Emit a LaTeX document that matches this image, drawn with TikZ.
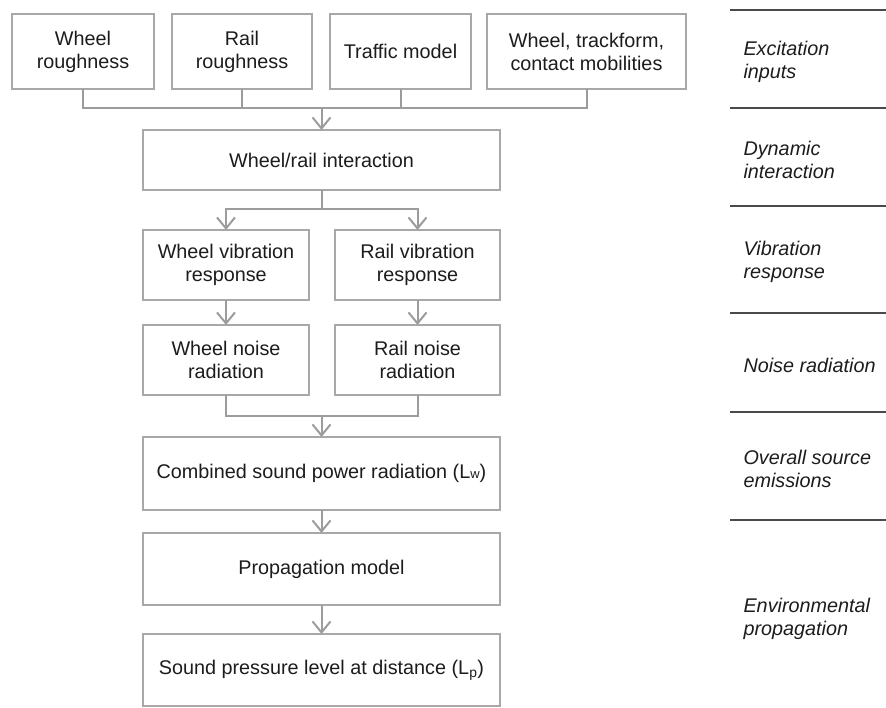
\documentclass[tikz,border=0pt]{standalone}
\usepackage{fontspec}
\setmainfont{Liberation Sans}
\usetikzlibrary{arrows.meta,positioning}
\definecolor{boxgray}{HTML}{A8A8A8}
\definecolor{linegray}{HTML}{9C9C9C}
\definecolor{rulegray}{HTML}{4A4A4A}
\definecolor{textgray}{HTML}{1C1C1C}

\begin{document}
\begin{tikzpicture}[
    x=1pt, y=-1pt,
    node distance=23pt and 25pt,
    block/.style={
        draw=boxgray,
        line width=1.3pt,
        rectangle,
        inner sep=0pt,
        outer sep=0pt,
        minimum height=75pt,
        align=center,
        text=textgray,
        font=\fontsize{19.8}{23}\selectfont
    },
    wide/.style={
        block,
        minimum width=357pt,
        minimum height=72pt
    },
    half/.style={
        block,
        minimum width=166pt,
        minimum height=70pt
    },
    stage/.style={
        anchor=west,
        align=left,
        text=textgray,
        font=\fontsize{19.8}{23}\selectfont\itshape
    },
    link/.style={
        draw=linegray,
        line width=2pt
    },
    arrow/.style={
        link,
        -{Straight Barb[length=11pt,width=18pt,line width=2pt]}
    },
    sep/.style={
        draw=rulegray,
        line width=1.4pt
    }
]
\useasboundingbox (0,0) rectangle (886,708);

% Inputs
\node[block, minimum width=142pt] (wrough) at (83,51.5) {Wheel\\roughness};
\node[block, minimum width=140pt] (rrough) at (242,51.5) {Rail\\roughness};
\node[block, minimum width=141pt] (traffic) at (400.5,51.5) {Traffic model};
\node[block, minimum width=199pt] (mobil) at (586.5,51.5) {Wheel, trackform,\\contact mobilities};

% Interaction
\coordinate (join) at (321.5,108);
\node[wide, minimum height=60pt] (inter) at (321.5,160) {Wheel/rail interaction};

% Vibration and radiation
\coordinate (split) at (321.5,209);
\node[half] (wvib) at (226,265) {Wheel vibration\\response};
\node[half, minimum width=165pt] (rvib) at (417.5,265) {Rail vibration\\response};
\node[half, below=25pt of wvib] (wnoise) {Wheel noise\\radiation};
\node[half, minimum width=165pt, below=25pt of rvib] (rnoise) {Rail noise\\radiation};

% Emission and propagation
\coordinate (merge) at (321.5,416);
\node[wide, minimum height=73pt] (comb) at (321.5,473.5) {Combined sound power radiation (L{\fontsize{13}{13}\selectfont w})};
\node[wide, below=23pt of comb] (prop) {Propagation model};
\node[wide, below=29pt of prop] (spl) {Sound pressure level at distance (L\textsubscript{p})};

% Inputs to interaction
\draw[link] (wrough.south) |- (join) -| (mobil.south);
\draw[link] (rrough.south) -- (rrough.south |- join);
\draw[link] (traffic.south) -- (traffic.south |- join);
\draw[arrow] (join) -- (inter.north);

% Interaction to responses
\draw[link] (inter.south) -- (split);
\draw[arrow] (split) -| (wvib.north);
\draw[arrow] (split) -| (rvib.north);
\draw[arrow] (wvib) -- (wnoise);
\draw[arrow] (rvib) -- (rnoise);

% Radiation to output
\draw[link] (wnoise.south) |- (merge) -| (rnoise.south);
\draw[arrow] (merge) -- (comb.north);
\draw[arrow] (comb) -- (prop);
\draw[arrow] (prop) -- (spl);

% Stages
\foreach \y in {10,108,206,313,412,520}
    \draw[sep] (730,\y) -- (886,\y);
\node[stage] (s1) at (740,62) {Excitation\\inputs};
\node[stage] (s2) at (740,160) {Dynamic\\interaction};
\node[stage] (s3) at (740,262) {Vibration\\response};
\node[stage] (s4) at (740,365) {Noise radiation};
\node[stage] (s5) at (740,469) {Overall source\\emissions};
\node[stage] (s6) at (740,619) {Environmental\\propagation};

\end{tikzpicture}
\end{document}
